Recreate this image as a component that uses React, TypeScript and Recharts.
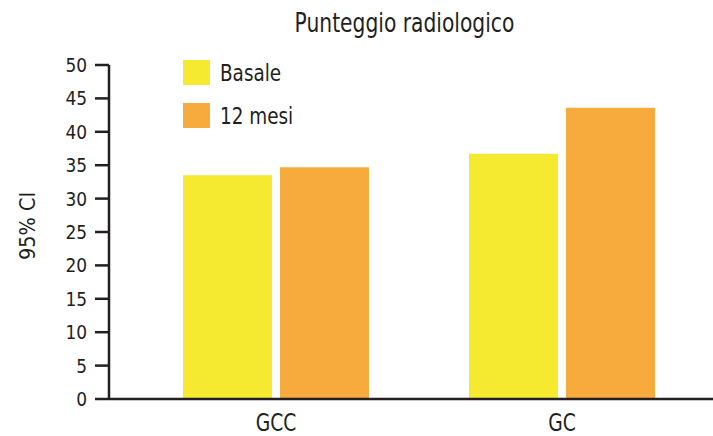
import { BarChart, Bar, XAxis, YAxis } from 'recharts';

const categories = ['GCC', 'GC'];
const basale = [33.5, 36.7];
const mesi12 = [34.7, 43.6];
const yTicks = [0, 5, 10, 15, 20, 25, 30, 35, 40, 45, 50];

const seriesNames = ['Basale', '12 mesi'];
const seriesColors = ['#F5EA2F', '#F8AB3D'];

const FONT = "'DejaVu Sans', sans-serif";
const INK = '#231f20';

const data = categories.map((c, i) => ({
  name: c,
  basale: basale[i],
  mesi12: mesi12[i],
}));

// the original uses a condensed face, so squeeze the text horizontally
const YTick = (props: any) => {
  const { x, y, payload } = props;
  return (
    <g transform={`translate(${x},${y})`}>
      <text
        transform="scale(0.85,1)"
        textAnchor="end"
        dominantBaseline="central"
        fontFamily={FONT}
        fontSize={20}
        fill={INK}
      >
        {payload.value}
      </text>
    </g>
  );
};

const XTick = (props: any) => {
  const { x, y, payload } = props;
  return (
    <g transform={`translate(${x},${y + 24})`}>
      <text
        transform="scale(0.78,1)"
        textAnchor="middle"
        dominantBaseline="central"
        fontFamily={FONT}
        fontSize={24}
        fill={INK}
      >
        {payload.value}
      </text>
    </g>
  );
};

const YLabel = (props: any) => {
  const { viewBox } = props;
  const x = viewBox.x + 28;
  const y = 226;
  return (
    <g transform={`translate(${x},${y}) rotate(-90)`}>
      <text
        transform="scale(0.92,1)"
        textAnchor="middle"
        dominantBaseline="central"
        fontFamily={FONT}
        fontSize={21}
        fill={INK}
      >
        95% CI
      </text>
    </g>
  );
};

export default function App() {
  return (
    <div style={{ position: 'absolute', left: 0, top: 0, width: 713, height: 436, background: '#fff' }}>
      <div
        style={{
          position: 'absolute',
          left: 0,
          width: 808,
          top: 9,
          textAlign: 'center',
          fontFamily: FONT,
          fontSize: 27,
          lineHeight: '27px',
          color: INK,
        }}
      >
        <span style={{ display: 'inline-block', transform: 'scaleX(0.75)' }}>Punteggio radiologico</span>
      </div>
      <div style={{ position: 'absolute', left: 183, top: 60, fontFamily: FONT, fontSize: 23, color: INK }}>
        {seriesNames.map((n, i) => (
          <div key={n} style={{ display: 'flex', alignItems: 'center', height: 25, marginBottom: 18 }}>
            <div style={{ width: 27, height: 25, background: seriesColors[i], marginRight: 10 }} />
            <span style={{ display: 'inline-block', transform: 'scaleX(0.8)', transformOrigin: 'left center' }}>
              {n}
            </span>
          </div>
        ))}
      </div>
      <BarChart
        width={713}
        height={436}
        data={data}
        margin={{ top: 65, right: 0, bottom: 0, left: 0 }}
        barSize={89}
        barGap={8}
      >
        <XAxis
          dataKey="name"
          height={37}
          padding={{ left: 24, right: 8 }}
          tickLine={false}
          tickSize={0}
          tickMargin={0}
          axisLine={{ stroke: INK, strokeWidth: 2.5 }}
          tick={<XTick />}
        />
        <YAxis
          width={109}
          domain={[0, 50]}
          ticks={yTicks}
          interval={0}
          tickSize={14}
          tickLine={{ stroke: INK, strokeWidth: 2.5 }}
          axisLine={{ stroke: INK, strokeWidth: 2.5 }}
          tick={<YTick />}
          tickMargin={8}
          label={<YLabel />}
        />
        <Bar dataKey="basale" name={seriesNames[0]} fill={seriesColors[0]} isAnimationActive={false} />
        <Bar dataKey="mesi12" name={seriesNames[1]} fill={seriesColors[1]} isAnimationActive={false} />
      </BarChart>
    </div>
  );
}
